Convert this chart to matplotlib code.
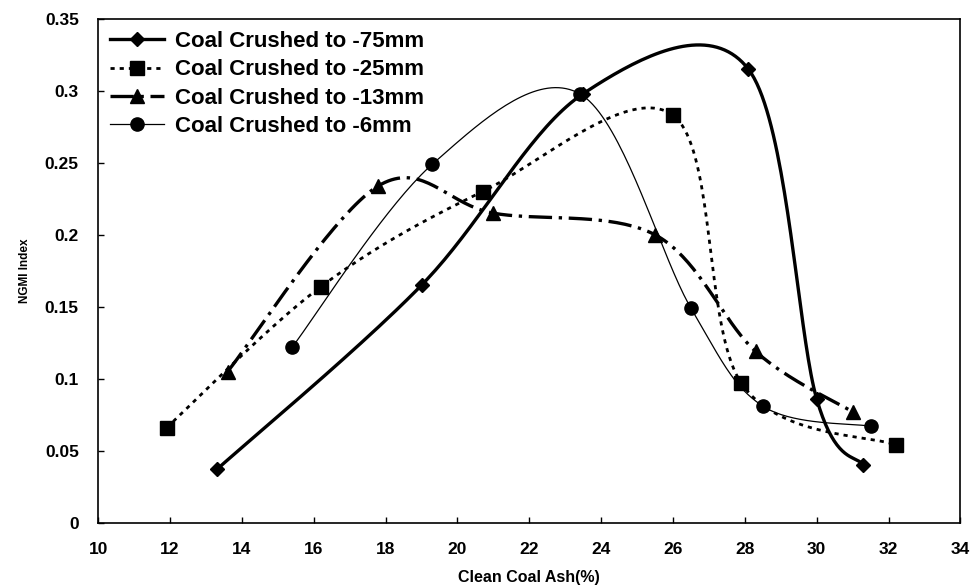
"""NGMI index vs clean coal ash for different crushing sizes."""

import numpy as np
import matplotlib.pyplot as plt
from matplotlib.lines import Line2D

plt.rcParams["font.family"] = ["Liberation Sans", "DejaVu Sans"]
plt.rcParams["font.weight"] = "bold"

# Data
ash_75 = [13.3, 19.0, 23.5, 28.1, 30.0, 31.3]
ngmi_75 = [0.037, 0.165, 0.298, 0.315, 0.086, 0.040]

ash_25 = [11.9, 16.2, 20.7, 26.0, 27.9, 32.2]
ngmi_25 = [0.066, 0.164, 0.230, 0.283, 0.097, 0.054]

ash_13 = [13.6, 17.8, 21.0, 25.5, 28.3, 31.0]
ngmi_13 = [0.105, 0.234, 0.215, 0.200, 0.119, 0.077]

ash_6 = [15.4, 19.3, 23.4, 26.5, 28.5, 31.5]
ngmi_6 = [0.122, 0.249, 0.298, 0.149, 0.081, 0.067]

labels = ["Coal Crushed to -75mm", "Coal Crushed to -25mm",
          "Coal Crushed to -13mm", "Coal Crushed to -6mm"]
x_ticks = list(range(10, 35, 2))
y_ticks = [0, 0.05, 0.1, 0.15, 0.2, 0.25, 0.3, 0.35]
y_tick_labels = ["0", "0.05", "0.1", "0.15", "0.2", "0.25", "0.3", "0.35"]


def smooth(x, y, n=40):
    """Excel-like smoothed line (Catmull-Rom Bezier) through the points."""
    p = np.column_stack([x, y]).astype(float)
    ext = np.vstack([p[0], p, p[-1]])
    t = np.linspace(0, 1, n)[:, None]
    out = []
    for i in range(len(p) - 1):
        p0, p3 = ext[i + 1], ext[i + 2]
        c1 = p0 + (ext[i + 2] - ext[i]) / 6.0
        c2 = p3 - (ext[i + 3] - ext[i + 1]) / 6.0
        seg = ((1 - t) ** 3 * p0 + 3 * (1 - t) ** 2 * t * c1
               + 3 * (1 - t) * t ** 2 * c2 + t ** 3 * p3)
        out.append(seg if i == 0 else seg[1:])
    s = np.vstack(out)
    return s[:, 0], s[:, 1]


fig = plt.figure(figsize=(9.73, 5.88), dpi=100)
ax = fig.add_axes([0.101, 0.111, 0.886, 0.857])

styles = [
    dict(ls="-", lw=2.4, marker="D", ms=7.5),
    dict(ls=(0, (1.5, 1.8)), lw=2.0, marker="s", ms=10),
    dict(ls=(0, (7, 2, 1, 2)), lw=2.4, marker="^", ms=10),
    dict(ls="-", lw=0.9, marker="o", ms=9.5),
]
series = [(ash_75, ngmi_75), (ash_25, ngmi_25), (ash_13, ngmi_13), (ash_6, ngmi_6)]

handles = []
for (xs, ys), st, lab in zip(series, styles, labels):
    sx, sy = smooth(xs, ys)
    ax.plot(sx, sy, color="black", ls=st["ls"], lw=st["lw"])
    ax.plot(xs, ys, ls="none", marker=st["marker"], ms=st["ms"], color="black")
    handles.append(Line2D([], [], color="black", ls=st["ls"], lw=st["lw"],
                          marker=st["marker"], ms=st["ms"], label=lab))

ax.set_xlim(10, 34)
ax.set_ylim(0, 0.35)
ax.set_xticks(x_ticks)
ax.set_yticks(y_ticks)
ax.set_yticklabels(y_tick_labels)
ax.tick_params(direction="in", length=4, width=1, labelsize=12.5)
ax.tick_params(axis="x", pad=14)
ax.tick_params(axis="y", pad=14)
for lab in ax.get_xticklabels() + ax.get_yticklabels():
    lab.set_fontweight("bold")
for sp in ax.spines.values():
    sp.set_linewidth(1.2)

ax.set_xlabel("Clean Coal Ash(%)", fontsize=11.5, fontweight="bold", labelpad=9)
ax.set_ylabel("NGMI Index", fontsize=8.5, fontweight="bold", labelpad=10)

ax.legend(handles=handles, loc="upper left", frameon=False,
          prop=dict(size=16, weight="bold"), handlelength=2.4,
          handletextpad=0.5, labelspacing=0.33, borderaxespad=0.15,
          bbox_to_anchor=(0.0, 1.0))

fig.savefig("out.png", dpi=100)
